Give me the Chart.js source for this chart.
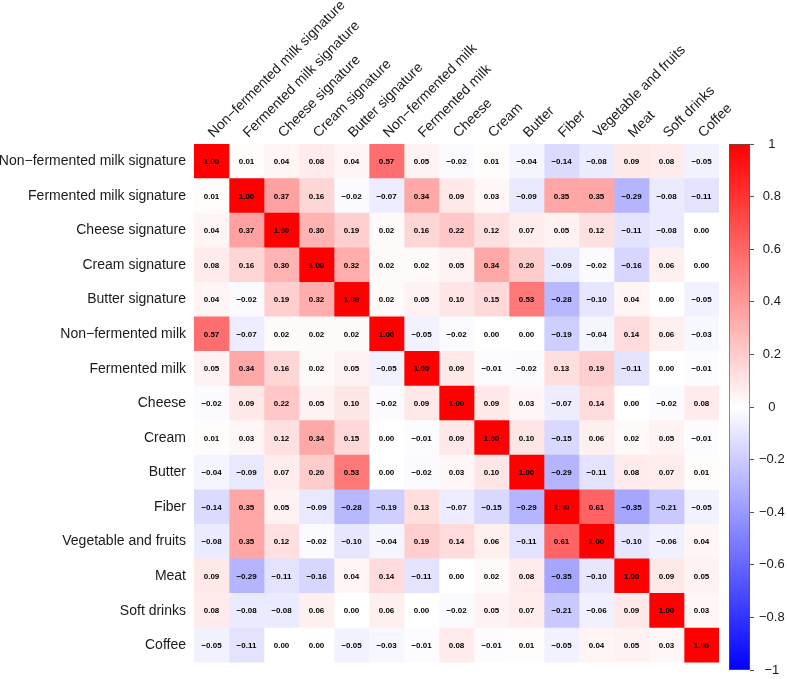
<!DOCTYPE html>
<html>
<head>
<meta charset="utf-8">
<script src="https://cdn.jsdelivr.net/npm/chart.js@4/dist/chart.umd.min.js"></script>
<style>
  body { margin: 0; background: #fff; }
  #wrap { position: relative; width: 787px; height: 679px; }
  #heat { position: absolute; left: 0; top: 0; }
  #bar { position: absolute; left: 700px; top: 0; }
</style>
</head>
<body>
<div id="wrap">
  <canvas id="heat" width="787" height="679"></canvas>
  <canvas id="bar" width="87" height="679"></canvas>
</div>
<script>
// variables (rows and columns, same order)
const variables = [
    'Non\u2212fermented milk signature', 'Fermented milk signature', 'Cheese signature',
    'Cream signature', 'Butter signature', 'Non\u2212fermented milk', 'Fermented milk',
    'Cheese', 'Cream', 'Butter', 'Fiber', 'Vegetable and fruits', 'Meat', 'Soft drinks', 'Coffee'
];

// correlation matrix, one row per variable
const corr = [
    [1.00, 0.01, 0.04, 0.08, 0.04, 0.57, 0.05, -0.02, 0.01, -0.04, -0.14, -0.08, 0.09, 0.08, -0.05],
    [0.01, 1.00, 0.37, 0.16, -0.02, -0.07, 0.34, 0.09, 0.03, -0.09, 0.35, 0.35, -0.29, -0.08, -0.11],
    [0.04, 0.37, 1.00, 0.30, 0.19, 0.02, 0.16, 0.22, 0.12, 0.07, 0.05, 0.12, -0.11, -0.08, 0.00],
    [0.08, 0.16, 0.30, 1.00, 0.32, 0.02, 0.02, 0.05, 0.34, 0.20, -0.09, -0.02, -0.16, 0.06, 0.00],
    [0.04, -0.02, 0.19, 0.32, 1.00, 0.02, 0.05, 0.10, 0.15, 0.53, -0.28, -0.10, 0.04, 0.00, -0.05],
    [0.57, -0.07, 0.02, 0.02, 0.02, 1.00, -0.05, -0.02, 0.00, 0.00, -0.19, -0.04, 0.14, 0.06, -0.03],
    [0.05, 0.34, 0.16, 0.02, 0.05, -0.05, 1.00, 0.09, -0.01, -0.02, 0.13, 0.19, -0.11, 0.00, -0.01],
    [-0.02, 0.09, 0.22, 0.05, 0.10, -0.02, 0.09, 1.00, 0.09, 0.03, -0.07, 0.14, 0.00, -0.02, 0.08],
    [0.01, 0.03, 0.12, 0.34, 0.15, 0.00, -0.01, 0.09, 1.00, 0.10, -0.15, 0.06, 0.02, 0.05, -0.01],
    [-0.04, -0.09, 0.07, 0.20, 0.53, 0.00, -0.02, 0.03, 0.10, 1.00, -0.29, -0.11, 0.08, 0.07, 0.01],
    [-0.14, 0.35, 0.05, -0.09, -0.28, -0.19, 0.13, -0.07, -0.15, -0.29, 1.00, 0.61, -0.35, -0.21, -0.05],
    [-0.08, 0.35, 0.12, -0.02, -0.10, -0.04, 0.19, 0.14, 0.06, -0.11, 0.61, 1.00, -0.10, -0.06, 0.04],
    [0.09, -0.29, -0.11, -0.16, 0.04, 0.14, -0.11, 0.00, 0.02, 0.08, -0.35, -0.10, 1.00, 0.09, 0.05],
    [0.08, -0.08, -0.08, 0.06, 0.00, 0.06, 0.00, -0.02, 0.05, 0.07, -0.21, -0.06, 0.09, 1.00, 0.03],
    [-0.05, -0.11, 0.00, 0.00, -0.05, -0.03, -0.01, 0.08, -0.01, 0.01, -0.05, 0.04, 0.05, 0.03, 1.00]
];

// colour bar range
const barMin = -1;
const barMax = 1;
const barStep = 0.2;

const FONT = '"Liberation Sans", Arial, sans-serif';
const TEXT = '#1a1a1a';

// blue - white - red
function corrColor(v) {
    if (v >= 0) {
        let c = Math.round(255 * (1 - v));
        return 'rgb(255,' + c + ',' + c + ')';
    }
    let c = Math.round(255 * (1 + v));
    return 'rgb(' + c + ',' + c + ',255)';
}

function fmt(v) {
    return v.toFixed(2).replace('-', '\u2212');
}

// one dataset per column, stacked cells of width 1
let datasets = variables.map((name, j) => ({
    label: name,
    data: corr.map(() => 1),
    backgroundColor: corr.map(row => corrColor(row[j])),
    borderWidth: 0,
    barPercentage: 1,
    categoryPercentage: 1
}));

// numbers inside the cells + column names at 45 degrees
const cellText = {
    id: 'cellText',
    afterDatasetsDraw(chart) {
        const ctx = chart.ctx;
        ctx.save();
        ctx.font = 'bold 8px ' + FONT;
        ctx.fillStyle = '#000';
        ctx.textAlign = 'center';
        ctx.textBaseline = 'middle';
        chart.data.datasets.forEach((ds, j) => {
            const meta = chart.getDatasetMeta(j);
            meta.data.forEach((el, i) => {
                let cx = (el.x + el.base) / 2;
                ctx.fillText(fmt(corr[i][j]), cx, el.y + 0.5);
            });
        });

        // column labels
        const xs = chart.scales.x;
        const top = chart.chartArea.top;
        ctx.font = '14px ' + FONT;
        ctx.fillStyle = TEXT;
        ctx.textAlign = 'left';
        ctx.textBaseline = 'alphabetic';
        variables.forEach((name, j) => {
            let px = xs.getPixelForValue(j + 0.5) + 2;
            ctx.save();
            ctx.translate(px, top - 6);
            ctx.rotate(-Math.PI / 4);
            ctx.fillText(name, 0, 0);
            ctx.restore();
        });
        ctx.restore();
    }
};

new Chart(document.getElementById('heat'), {
    type: 'bar',
    data: { labels: variables, datasets: datasets },
    options: {
        indexAxis: 'y',
        responsive: false,
        animation: false,
        layout: { padding: { left: 0, right: 68, top: 144, bottom: 10 } },
        plugins: { legend: { display: false }, tooltip: { enabled: false } },
        scales: {
            x: {
                type: 'linear', stacked: true, min: 0, max: variables.length,
                display: false
            },
            y: {
                stacked: true,
                grid: { display: false, drawTicks: false }, border: { display: false },
                ticks: { padding: 8, color: TEXT, font: { family: FONT, size: 14 } },
                afterFit(scale) { scale.width = 194; }
            }
        }
    },
    plugins: [cellText]
});

// colour bar
new Chart(document.getElementById('bar'), {
    type: 'bar',
    data: {
        labels: [''],
        datasets: [{
            data: [[barMin, barMax]],
            backgroundColor(c) {
                const area = c.chart.chartArea;
                if (!area) return null;
                let g = c.chart.ctx.createLinearGradient(0, area.bottom, 0, area.top);
                g.addColorStop(0, 'rgb(0,0,255)');
                g.addColorStop(0.5, 'rgb(255,255,255)');
                g.addColorStop(1, 'rgb(255,0,0)');
                return g;
            },
            borderColor: '#555',
            borderWidth: 1,
            borderSkipped: false,
            barPercentage: 1,
            categoryPercentage: 1
        }]
    },
    options: {
        responsive: false,
        animation: false,
        layout: { padding: { left: 29, right: 0, top: 144, bottom: 9 } },
        plugins: { legend: { display: false }, tooltip: { enabled: false } },
        scales: {
            x: { display: false },
            y: {
                position: 'right', min: barMin, max: barMax,
                grid: { drawOnChartArea: false, tickLength: 4, color: '#555' },
                border: { display: false },
                ticks: {
                    stepSize: barStep, padding: 5, crossAlign: 'center', color: TEXT,
                    font: { family: FONT, size: 13 },
                    callback: v => {
                        let r = Math.round(v * 10) / 10;
                        return r === 0 ? '0' : String(r).replace('-', '\u2212');
                    }
                },
                afterFit(scale) {
                    scale.width = 37;
                    scale.paddingTop = 0;
                    scale.paddingBottom = 0;
                }
            }
        }
    }
});
</script>
</body>
</html>
